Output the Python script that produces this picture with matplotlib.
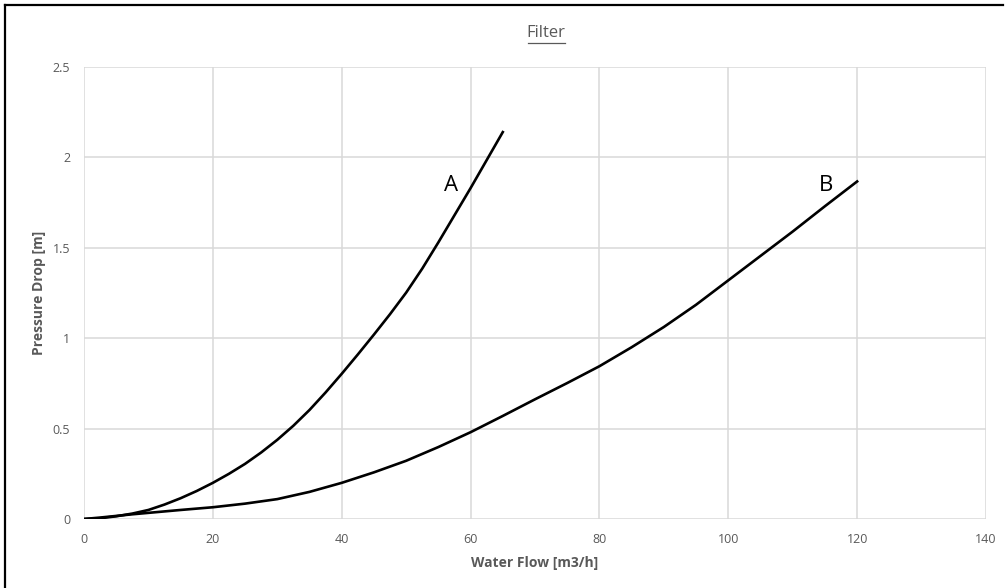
import matplotlib
matplotlib.use("Agg")
import matplotlib.pyplot as plt
from matplotlib.lines import Line2D

plt.rcParams['font.family'] = ['Open Sans', 'DejaVu Sans']

# Filter A: water flow [m3/h] vs pressure drop [m]
flow_a = [0, 2.5, 5, 7.5, 10, 12.5, 15, 17.5, 20, 22.5, 25, 27.5, 30, 32.5, 35, 37.5,
          40, 42.5, 45, 47.5, 50, 52.5, 55, 57.5, 60, 62.5, 65]
drop_a = [0, 0.004, 0.015, 0.03, 0.05, 0.08, 0.115, 0.155, 0.2, 0.25, 0.305, 0.368,
          0.438, 0.516, 0.603, 0.70, 0.803, 0.91, 1.02, 1.133, 1.252, 1.385, 1.53,
          1.68, 1.83, 1.985, 2.14]

# Filter B
flow_b = [0, 2.5, 5, 7.5, 10, 15, 20, 25, 30, 35, 40, 45, 50, 55, 60, 65, 70, 75,
          80, 85, 90, 95, 100, 105, 110, 115, 120]
drop_b = [0, 0.008, 0.017, 0.026, 0.034, 0.05, 0.065, 0.085, 0.11, 0.15, 0.2, 0.258,
          0.322, 0.398, 0.48, 0.57, 0.662, 0.752, 0.845, 0.95, 1.062, 1.185, 1.32,
          1.455, 1.59, 1.73, 1.867]

x_ticks = [0, 20, 40, 60, 80, 100, 120, 140]
y_ticks = [0, 0.5, 1, 1.5, 2, 2.5]
y_tick_labels = ['0', '0.5', '1', '1.5', '2', '2.5']

W, H = 1007, 588
fig = plt.figure(figsize=(W / 100, H / 100), dpi=100)
ax = fig.add_axes([84 / W, 1 - 519 / H, (986 - 84) / W, (519 - 67) / H])

grid_col = '#d9d9d9'
text_col = '#595959'

ax.plot(flow_a, drop_a, color='black', lw=1.9, solid_joinstyle='round', zorder=3)
ax.plot(flow_b, drop_b, color='black', lw=1.9, solid_joinstyle='round', zorder=3)

ax.set_xlim(0, 140)
ax.set_ylim(0, 2.5)
ax.set_xticks(x_ticks)
ax.set_yticks(y_ticks)
ax.set_yticklabels(y_tick_labels)
ax.grid(True, color=grid_col, lw=1.1)
ax.set_axisbelow(True)
for s in ax.spines.values():
    s.set_visible(False)
ax.tick_params(length=0, colors=text_col, labelsize=9, pad=10)
ax.tick_params(axis='x', pad=10)

ax.set_xlabel('Water Flow [m3/h]', color=text_col, fontsize=10, fontweight='bold', labelpad=7)
ax.set_ylabel('Pressure Drop [m]', color=text_col, fontsize=10, fontweight='bold', labelpad=5)

ax.text(56.9, 1.845, 'A', fontsize=16, color='black', ha='center', va='center')
ax.text(115.1, 1.845, 'B', fontsize=16, color='black', ha='center', va='center')

fig.text(546 / W, 1 - 33 / H, 'Filter', color=text_col, fontsize=12,
         ha='center', va='center')
# underline beneath the title
fig.add_artist(Line2D([528 / W, 565 / W], [1 - 43 / H, 1 - 43 / H], color=text_col, lw=0.9))

# outer frame
fig.add_artist(Line2D([5 / W, 5 / W], [0, 1 - 5 / H], color='black', lw=1.6))
fig.add_artist(Line2D([5 / W, 1003 / W], [1 - 5 / H, 1 - 5 / H], color='black', lw=1.6))

fig.savefig('out.png', dpi=100, facecolor='white')
